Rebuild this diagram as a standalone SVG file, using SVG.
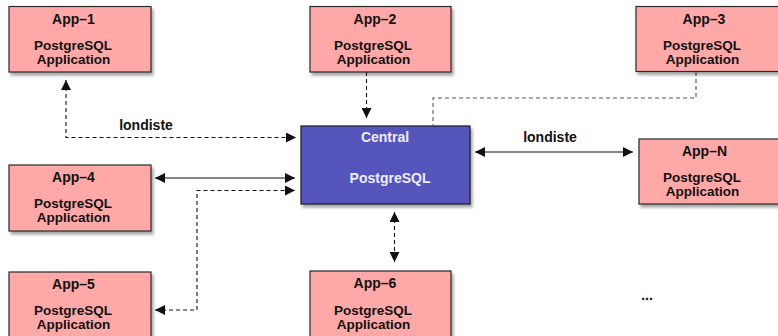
<svg xmlns="http://www.w3.org/2000/svg" width="778" height="336" viewBox="0 0 778 336">
<style>
.box{fill:#FFA8A8;stroke:#2a2a2a;stroke-width:1.2;filter:url(#sh)}
.central{fill:#5555BB;stroke:#1a1a2a;stroke-width:1.2;filter:url(#sh)}
text{font-family:"Liberation Sans",Arial,sans-serif;font-weight:bold;font-size:14px;text-anchor:middle;fill:#111}
.s{font-size:13.5px}
.wt{fill:#EEEEFA}
.solid{fill:none;stroke:#111;stroke-width:1.2}
.dash{fill:none;stroke:#111;stroke-width:1.1;stroke-dasharray:4,3}
.dashg{fill:none;stroke:#555;stroke-width:1.1;stroke-dasharray:4,3}
</style>
<defs>
<filter id="sh" x="-10%" y="-10%" width="130%" height="140%">
<feDropShadow dx="2" dy="3" stdDeviation="1.5" flood-color="#000" flood-opacity="0.35"/>
</filter>
<marker id="ae" viewBox="0 0 10 10" refX="10" refY="5" markerWidth="10" markerHeight="10" markerUnits="userSpaceOnUse" orient="auto">
<path d="M0,0 L10,5 L0,10 z" fill="#111"/>
</marker>
<marker id="as" viewBox="0 0 10 10" refX="0" refY="5" markerWidth="10" markerHeight="10" markerUnits="userSpaceOnUse" orient="auto">
<path d="M10,0 L0,5 L10,10 z" fill="#111"/>
</marker>
</defs>

<g id="connectors">
<path class="dash" d="M66,80 V137.5 H296" marker-start="url(#as)" marker-end="url(#ae)"/>
<path class="dash" d="M366.5,72 V118" marker-end="url(#ae)"/>
<path class="dashg" d="M696,72 V98 H433 V125"/>
<path class="solid" d="M475,152 H633" marker-start="url(#as)" marker-end="url(#ae)"/>
<path class="solid" d="M155,178 H295" marker-start="url(#as)" marker-end="url(#ae)"/>
<path class="dash" d="M155,310 H197 V190.5 H295" marker-start="url(#as)" marker-end="url(#ae)"/>
<path class="dash" d="M394.5,212 V262" marker-start="url(#as)" marker-end="url(#ae)"/>
<text x="146" y="130">londiste</text>
<text x="550" y="142">londiste</text>
</g>

<g id="app1">
<rect class="box" x="9" y="6.5" width="142" height="65.5"/>
<text x="73.5" y="24">App–1</text>
<text class="s" x="73" y="49.5">PostgreSQL</text>
<text class="s" x="73.5" y="63.5">Application</text>
</g>

<g id="app2">
<rect class="box" x="310" y="6.5" width="141" height="65.5"/>
<text x="375" y="24">App–2</text>
<text class="s" x="373" y="49.5">PostgreSQL</text>
<text class="s" x="373.5" y="63.5">Application</text>
</g>

<g id="app3">
<rect class="box" x="636" y="6.5" width="146" height="65"/>
<text x="704" y="24">App–3</text>
<text class="s" x="702" y="49.5">PostgreSQL</text>
<text class="s" x="702.5" y="63.5">Application</text>
</g>

<g id="central">
<rect class="central" x="301" y="126" width="169" height="78"/>
<text class="wt" x="385" y="142">Central</text>
<text class="wt" x="390" y="183">PostgreSQL</text>
</g>

<g id="appN">
<rect class="box" x="639" y="139" width="143" height="65"/>
<text x="704.5" y="156">App–N</text>
<text class="s" x="702" y="181.5">PostgreSQL</text>
<text class="s" x="702.5" y="195.5">Application</text>
</g>

<g id="app4">
<rect class="box" x="9" y="165" width="142" height="66"/>
<text x="73.5" y="182">App–4</text>
<text class="s" x="73" y="207.5">PostgreSQL</text>
<text class="s" x="73.5" y="221.5">Application</text>
</g>

<g id="app5">
<rect class="box" x="9" y="272" width="142" height="70"/>
<text x="73.5" y="289">App–5</text>
<text class="s" x="73" y="314.5">PostgreSQL</text>
<text class="s" x="73.5" y="328.5">Application</text>
</g>

<g id="app6">
<rect class="box" x="310" y="271" width="141" height="71"/>
<text x="375" y="288">App–6</text>
<text class="s" x="373" y="314.5">PostgreSQL</text>
<text class="s" x="373.5" y="328.5">Application</text>
</g>

<g id="more">
<text x="647" y="300">...</text>
</g>
</svg>
